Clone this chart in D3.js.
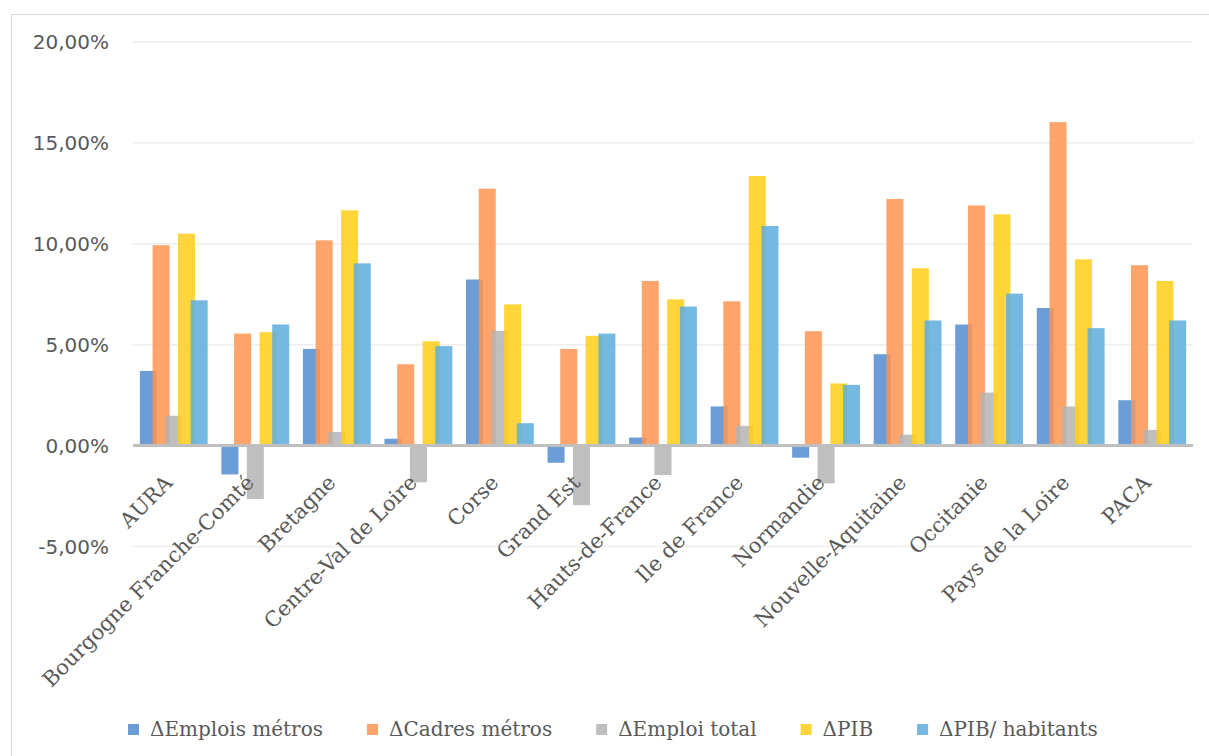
<!DOCTYPE html>
<html>
<head>
<meta charset="utf-8">
<script src="https://cdn.jsdelivr.net/npm/d3@7"></script>
<style>
  html, body { margin: 0; padding: 0; background: #ffffff; }
  svg { display: block; }
</style>
</head>
<body>
<svg id="chart" width="1209" height="756"></svg>
<script>
// Regions
const categories = [
  "AURA", "Bourgogne Franche-Comté", "Bretagne", "Centre-Val de Loire", "Corse",
  "Grand Est", "Hauts-de-France", "Ile de France", "Normandie", "Nouvelle-Aquitaine",
  "Occitanie", "Pays de la Loire", "PACA"
];

// Variations, in percent
const emploisMetros = [3.70, -1.43, 4.79, 0.34, 8.23, -0.85, 0.40, 1.94, -0.60, 4.53, 6.00, 6.82, 2.25];
const cadresMetros  = [9.93, 5.55, 10.17, 4.03, 12.73, 4.79, 8.16, 7.15, 5.67, 12.22, 11.90, 16.03, 8.94];
const emploiTotal   = [1.48, -2.65, 0.67, -1.82, 5.68, -2.95, -1.46, 0.98, -1.87, 0.54, 2.63, 1.94, 0.78];
const pib           = [10.50, 5.62, 11.66, 5.17, 7.00, 5.44, 7.25, 13.36, 3.08, 8.79, 11.46, 9.23, 8.16];
const pibHabitants  = [7.20, 6.00, 9.03, 4.93, 1.11, 5.55, 6.89, 10.88, 3.01, 6.20, 7.53, 5.82, 6.20];

const seriesNames = ["ΔEmplois métros", "ΔCadres métros", "ΔEmploi total", "ΔPIB", "ΔPIB/ habitants"];
const seriesValues = [emploisMetros, cadresMetros, emploiTotal, pib, pibHabitants];
const seriesColors = ["#528ccf", "#ff9450", "#b4b4b4", "#ffce17", "#5dadde"];

const yTicks = [-5, 0, 5, 10, 15, 20];

const svg = d3.select("#chart");

// Outer chart frame
svg.append("rect")
  .attr("x", 11.5).attr("y", 14.5)
  .attr("width", 1400).attr("height", 1000)
  .attr("fill", "none").attr("stroke", "#d9d9d9").attr("stroke-width", 1);

const plot = { left: 133, right: 1193, top: 42, bottom: 546.5 };

const x = d3.scaleBand()
  .domain(categories)
  .range([plot.left, plot.right])
  .padding(0);

const y = d3.scaleLinear()
  .domain([-5, 20])
  .range([plot.bottom, plot.top]);

// Gridlines
svg.append("g")
  .selectAll("line")
  .data(yTicks.filter(t => t !== 0))
  .join("line")
  .attr("x1", plot.left).attr("x2", plot.right)
  .attr("y1", d => y(d)).attr("y2", d => y(d))
  .attr("stroke", "#eeeeee").attr("stroke-width", 1.6);

// Y axis labels (French decimal comma, plain hyphen for negatives)
const frLocale = d3.formatLocale({ decimal: ",", thousands: " ", grouping: [3], currency: ["", " €"], minus: "-" });
const fmt = d => frLocale.format(".2f")(d) + "%";
svg.append("g")
  .selectAll("text")
  .data(yTicks)
  .join("text")
  .attr("x", 109)
  .attr("y", d => y(d))
  .attr("dy", "0.36em")
  .attr("text-anchor", "end")
  .attr("font-family", "'DejaVu Sans', sans-serif")
  .attr("font-size", 20)
  .attr("fill", "#595959")
  .text(fmt);

// Bars: overlapping clustered columns
const band = x.bandwidth();
const barW = band * 0.2086;
const step = band * 0.1558;
const groupW = step * (seriesValues.length - 1) + barW;
const groupOffset = (band - groupW) / 2;

seriesValues.forEach((vals, si) => {
  svg.append("g")
    .selectAll("rect")
    .data(vals.map((v, i) => ({ cat: categories[i], v })))
    .join("rect")
    .attr("x", d => x(d.cat) + groupOffset + si * step)
    .attr("width", barW)
    .attr("y", d => y(Math.max(0, d.v)))
    .attr("height", d => Math.abs(y(d.v) - y(0)))
    .attr("fill", seriesColors[si])
    .attr("fill-opacity", 0.85);
});

// Zero line
svg.append("line")
  .attr("x1", plot.left).attr("x2", plot.right)
  .attr("y1", y(0)).attr("y2", y(0))
  .attr("stroke", "#bfbfbf").attr("stroke-width", 3);

// Category labels, rotated
svg.append("g")
  .selectAll("text")
  .data(categories)
  .join("text")
  .attr("transform", d => `translate(${x(d) + band / 2},${484}) rotate(-45)`)
  .attr("text-anchor", "end")
  .attr("font-family", "'DejaVu Serif', serif")
  .attr("font-size", 21)
  .attr("fill", "#595959")
  .text(d => d);

// Legend
const legend = svg.append("g").attr("transform", "translate(128,729)");
let lx = 0;
seriesNames.forEach((name, i) => {
  const g = legend.append("g").attr("transform", `translate(${lx},0)`);
  g.append("rect")
    .attr("x", 0).attr("y", -5)
    .attr("width", 11).attr("height", 11)
    .attr("fill", seriesColors[i]).attr("fill-opacity", 0.85);
  const t = g.append("text")
    .attr("x", 22).attr("y", 0)
    .attr("dy", "0.35em")
    .attr("font-family", "'DejaVu Serif', serif")
    .attr("font-size", 20)
    .attr("fill", "#595959")
    .text(name);
  lx += 22 + t.node().getComputedTextLength() + 44;
});
</script>
</body>
</html>
